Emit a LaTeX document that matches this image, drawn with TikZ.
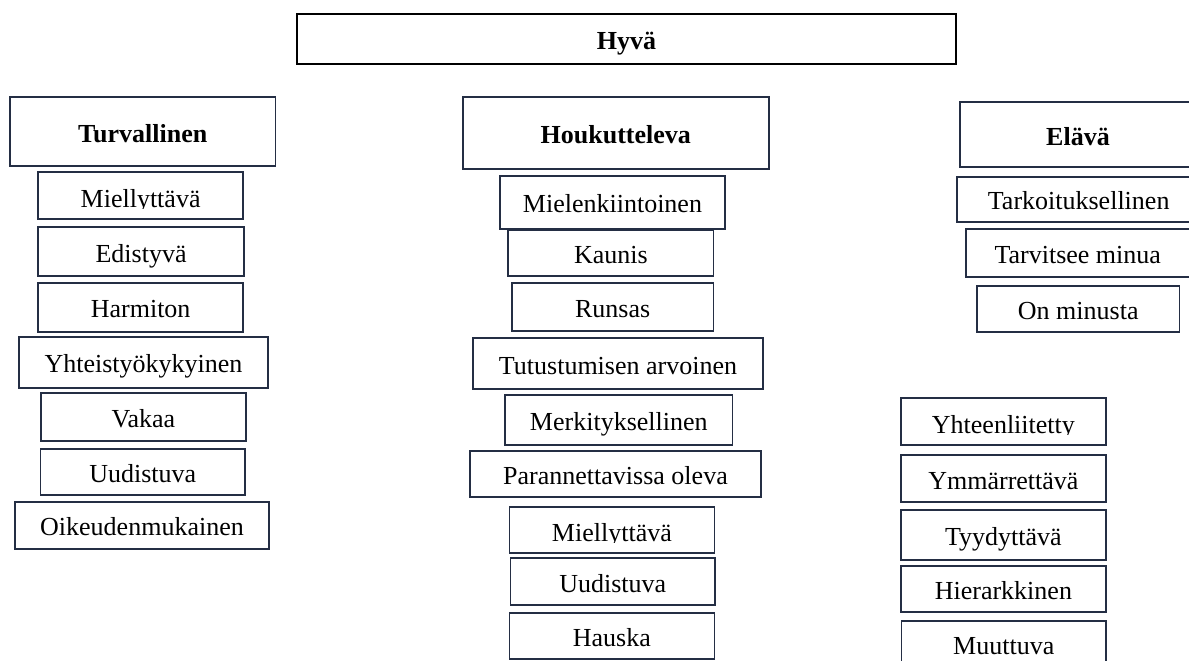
\documentclass[tikz,border=0pt]{standalone}
\usepackage{fontspec}
\setmainfont{Liberation Serif}
\definecolor{edge}{RGB}{36,46,68}
\tikzset{
  bx/.style={draw=edge, line width=1.7pt, inner sep=0pt, font=\fontsize{26}{30}\selectfont, text height=21pt, text depth=0pt},
  hd/.style={bx, font=\fontsize{26}{30}\selectfont\bfseries},
  top/.style={hd, draw=black, line width=2.1pt},
  txt/.style={inner sep=0pt, font=\fontsize{26}{30}\selectfont}
}
\newcommand\mkbox[7]{%
  \pgfmathsetmacro\bw{#4-#2}\pgfmathsetmacro\bh{#5-#3}%
  \pgfmathsetmacro\bcx{(#2+#4)/2}\pgfmathsetmacro\bcy{(#3+#5)/2}%
  \node[#6, minimum width=\bw pt, minimum height=\bh pt] (#1) at (\bcx,\bcy) {#7};}
\begin{document}
\begin{tikzpicture}[x=1pt,y=-1pt]
\clip (0,0) rectangle (1189,661);
\fill[white] (0,0) rectangle (1189,661);
% top
\mkbox{hyva}{297}{14}{956}{64}{top}{Hyvä}
% left column
\mkbox{turv}{10}{97}{275.5}{166}{hd}{Turvallinen}
\mkbox{tmiel}{38.3}{172}{243}{219}{bx}{}
\begin{scope}
\clip (38.3,172) rectangle (243,208);
\node[txt, anchor=base] (tmielt) at (140.6,207) {Miellyttävä};
\end{scope}
\mkbox{edis}{38.3}{226.7}{243.8}{276.3}{bx}{Edistyvä}
\mkbox{harm}{38.3}{282.7}{243}{331.7}{bx}{Harmiton}
\mkbox{yhte}{19}{336.7}{268}{387.7}{bx}{Yhteistyökykyinen}
\mkbox{vaka}{41.3}{392.7}{245.7}{441}{bx}{Vakaa}
\mkbox{tuud}{40.6}{448.7}{245}{495}{bx}{Uudistuva}
\mkbox{oike}{15.3}{501.7}{268.7}{548.7}{bx}{Oikeudenmukainen}
% middle column
\mkbox{houk}{462.7}{97.3}{769}{169.3}{hd}{Houkutteleva}
\mkbox{miel}{500.2}{175.7}{724.7}{229}{bx}{Mielenkiintoinen}
\mkbox{kaun}{508.2}{230}{713.6}{276.3}{bx}{Kaunis}
\mkbox{runs}{511.7}{283.3}{713.6}{331}{bx}{Runsas}
\mkbox{tutu}{473}{338.3}{763}{388.7}{bx}{Tutustumisen arvoinen}
\mkbox{merk}{505.2}{395}{732.4}{444.7}{bx}{Merkityksellinen}
\mkbox{para}{470.3}{451}{760.7}{497}{bx}{Parannettavissa oleva}
\mkbox{hmiel}{509.4}{506.7}{714.4}{552.7}{bx}{}
\begin{scope}
\clip (509.4,506.7) rectangle (714.4,542);
\node[txt, anchor=base] (hmielt) at (611.9,541) {Miellyttävä};
\end{scope}
\mkbox{huud}{510.5}{558.3}{715.1}{604.7}{bx}{Uudistuva}
\mkbox{haus}{509.4}{612.7}{714.4}{658.7}{bx}{Hauska}
% right column
\mkbox{elav}{960}{101.7}{1196}{167.3}{hd}{Elävä}
\mkbox{tark}{957.3}{176.7}{1200}{221.7}{bx}{Tarkoituksellinen}
\mkbox{tarv}{966}{229.3}{1189.4}{277.3}{bx}{Tarvitsee minua}
\mkbox{onmi}{977}{285.7}{1179.5}{332.3}{bx}{On minusta}
% lower right column
\mkbox{yhtl}{900.8}{398.3}{1106}{444.7}{bx}{}
\begin{scope}
\clip (900.8,398.3) rectangle (1106,434.5);
\node[txt, anchor=base] (yhtlt) at (1003.4,433.5) {Yhteenliitetty};
\end{scope}
\mkbox{ymma}{900.8}{455.3}{1106}{502}{bx}{Ymmärrettävä}
\mkbox{tyyd}{900.8}{510.3}{1106}{560}{bx}{Tyydyttävä}
\mkbox{hier}{900.8}{566}{1106}{611.7}{bx}{Hierarkkinen}
\mkbox{muut}{901.5}{620.7}{1106}{668}{bx}{Muuttuva}
\end{tikzpicture}
\end{document}
